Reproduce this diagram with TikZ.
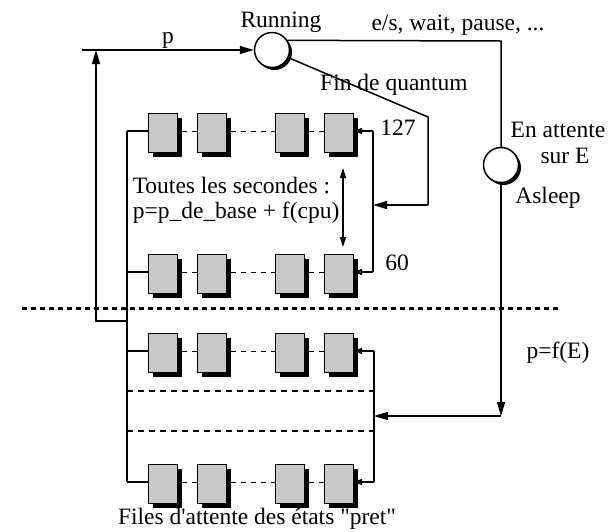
\documentclass[tikz,border=0pt]{standalone}
\usepackage{fontspec}
\setmainfont{Liberation Serif}[Ligatures=TeXOff]
\usetikzlibrary{arrows.meta,shadows}
\definecolor{boxgray}{RGB}{200,200,200}
\begin{document}
\begin{tikzpicture}[x=1pt,y=-1pt,
  line width=1.5pt,
  every node/.style={font=\fontsize{23.5}{26}\selectfont, inner sep=0pt},
  cell/.style={draw, line width=1.1pt, fill=boxgray, minimum width=29pt, minimum height=39pt,
    drop shadow={shadow xshift=4pt,shadow yshift=-4pt,fill=black,opacity=1}},
  proc/.style={circle, draw, line width=1.5pt, fill=white, minimum size=35pt,
    drop shadow={shadow xshift=2.5pt,shadow yshift=-2.5pt,fill=black,opacity=1}},
  bigarrow/.style={-{Triangle[length=14pt,width=8pt]}},
  smallarrow/.style={-{Triangle[length=8pt,width=6pt]}},
  dblarrow/.style={{Triangle[length=10pt,width=6pt]}-{Triangle[length=10pt,width=6pt]}, line width=1.1pt},
  rowdash/.style={line width=1pt, dash pattern=on 5pt off 5pt},
  sepdash/.style={line width=1.1pt, dash pattern=on 6pt off 5pt},
  bigdots/.style={line width=3pt, dash pattern=on 5pt off 4pt},
  lbl/.style={anchor=base},
  lblw/.style={anchor=base west}
]
\useasboundingbox (0,0) rectangle (615,531);

% queues
\foreach \r/\y in {1/131,2/272,3/351,4/482} {
  \coordinate (L\r) at (127,\y);
  \foreach \c/\x in {1/163,2/212,3/290,4/339}
    \node[cell] (b\r\c) at (\x,\y+2) {};
}
\foreach \r in {1,2,3,4} {
  \draw (L\r) -- (b\r1.west |- L\r);
  \draw[rowdash] ([xshift=4pt]b\r1.east |- L\r) -- (b\r2.west |- L\r);
  \draw[rowdash] ([xshift=4pt]b\r2.east |- L\r) -- (b\r3.west |- L\r);
  \draw[rowdash] ([xshift=4pt]b\r3.east |- L\r) -- (b\r4.west |- L\r);
}
\draw (L1) -- (L4);

% right sides of groups
\coordinate (R1) at (373,131);
\coordinate (R2) at (373,272);
\coordinate (R3) at (374,351);
\coordinate (R4) at (374,482);
\draw (R1) -- (R2);
\draw (R3) -- (R4);
\draw[smallarrow] (R1) -- (b14.east |- R1);
\draw[smallarrow] (R2) -- (b24.east |- R2);
\draw[smallarrow] (R3) -- (b34.east |- R3);
\draw[smallarrow] (R4) -- (b44.east |- R4);

% separators
\coordinate (DA1) at (127,391); \coordinate (DB1) at (374,391);
\coordinate (DA2) at (127,431); \coordinate (DB2) at (374,431);
\draw[sepdash] (DA1) -- (DB1);
\draw[sepdash] (DA2) -- (DB2);

\coordinate (SL) at (22,308); \coordinate (SR) at (560,308);
\draw[bigdots] (SL) -- (SR);

% processes
\node[proc] (run) at (272,50) {};
\node[proc] (sleep) at (501,165) {};

% left loop to running
\coordinate (J) at (127,321);
\coordinate (K) at (96,321);
\coordinate (KT) at (96,50);
\coordinate (P0) at (82,50);
\draw[bigarrow] (J) -- (K) -- (KT);
\draw[bigarrow] (P0) -- (run.west);

% running -> asleep
\coordinate (T1) at (501,41);
\draw (run.32) -- (T1) -- (sleep.north);

% end of quantum
\coordinate (D1) at (428,117);
\coordinate (D2) at (428,205);
\coordinate (RM) at (373,205);
\draw (run.-25) -- (D1) -- (D2);
\draw[bigarrow] (D2) -- (RM);

% wake up
\coordinate (S1) at (501,416);
\coordinate (S2) at (374,416);
\draw[bigarrow] (sleep.south) -- (S1);
\draw[bigarrow] (S1) -- (S2);

% recompute arrow
\coordinate (U1) at (343,168);
\coordinate (U2) at (343,247);
\draw[dblarrow] (U1) -- (U2);

% labels
\node[lbl] (tRun) at (281,27) {Running};
\node[lbl] (tES) at (458,30) {e/s, wait, pause, ...};
\node[lbl] (tFin) at (394,90) {Fin de quantum};
\node[lbl] (t127) at (398,135) {127};
\node[lbl] (tEn) at (558,137) {En attente};
\node[lbl] (tSur) at (565,163) {sur E};
\node[lbl] (tAs) at (548,203) {Asleep};
\node[lbl] (t60) at (397,270) {60};
\node[lblw] (tTout) at (132,193) {Toutes les secondes :};
\node[lblw] (tForm) at (132,218) {p=p\_de\_base + f(cpu)};
\node[lbl] (tPE) at (558,358) {p=f(E)};
\node[lbl] (tP) at (168,43) {p};
\node[lbl] (tFiles) at (257,524) {Files d'attente des états "pret"};
\end{tikzpicture}
\end{document}
